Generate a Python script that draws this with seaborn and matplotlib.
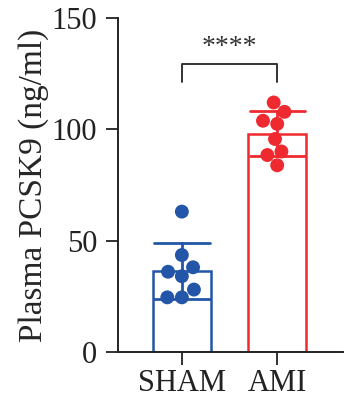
import numpy as np
import pandas as pd
import matplotlib
matplotlib.use("Agg")
import matplotlib.pyplot as plt
import seaborn as sns

# values (ng/ml)
groups = ["SHAM", "AMI"]
sham_vals = [63, 43.5, 38, 36, 34, 28, 24.5, 24.5]
ami_vals = [112, 107.8, 103.8, 102.4, 95.6, 90, 88.4, 83.8]
colors = ["#2356a8", "#ee2a30"]

df = pd.DataFrame({
    "group": ["SHAM"] * len(sham_vals) + ["AMI"] * len(ami_vals),
    "value": sham_vals + ami_vals,
})

sns.set_style("ticks")
plt.rcParams["font.family"] = "serif"
plt.rcParams["font.serif"] = ["Liberation Serif", "DejaVu Serif"]

fig = plt.figure(figsize=(3.44, 4.15), dpi=100)
ax = fig.add_axes([0.343, 0.152, 0.654, 0.805])

sns.barplot(data=df, x="group", y="value", order=groups, hue="group",
            palette=colors, fill=False, errorbar="sd", capsize=0.58,
            width=0.61, linewidth=1.8, err_kws={"linewidth": 2.0},
            legend=False, ax=ax)
sns.swarmplot(data=df, x="group", y="value", order=groups, hue="group",
              palette=colors, size=10, legend=False, ax=ax)

ax.set_ylim(0, 150)
ax.set_xlim(-0.67, 1.69)
ax.set_yticks([0, 50, 100, 150])
ax.set_xlabel("")
ax.set_ylabel("Plasma PCSK9 (ng/ml)", fontsize=24, labelpad=2)
ax.tick_params(axis="both", labelsize=22, length=9, width=1.3, colors="#222222")
ax.tick_params(axis="y", pad=6)
for s in ["left", "bottom"]:
    ax.spines[s].set_linewidth(1.4)
    ax.spines[s].set_color("#222222")
sns.despine(ax=ax)

# significance bracket
ax.plot([0, 0, 1, 1], [121, 129.5, 129.5, 121], color="#333333", lw=1.4)
ax.text(0.5, 131, "****", ha="center", va="bottom", fontsize=20,
        color="#333333")

fig.savefig("out.png", dpi=100)
